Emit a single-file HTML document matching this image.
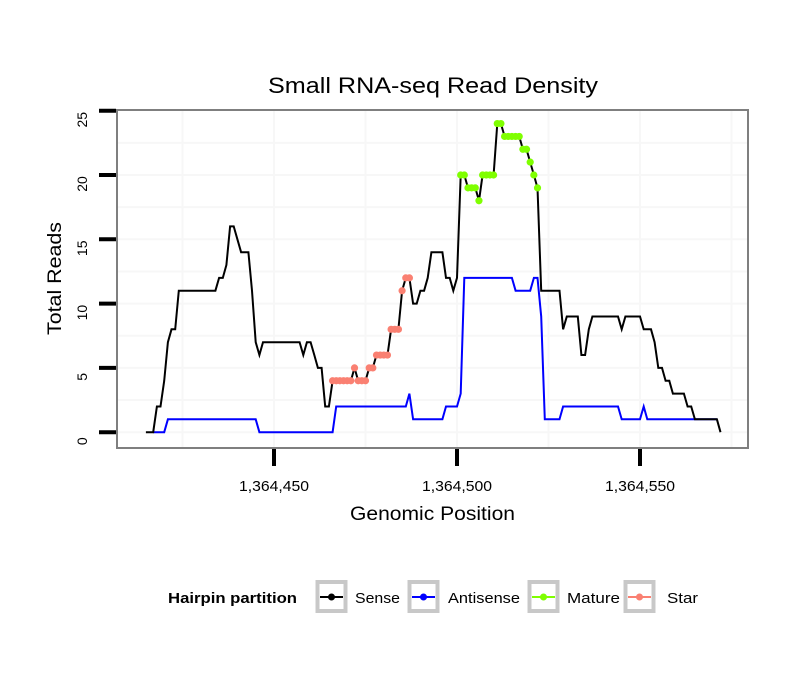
<!DOCTYPE html>
<html><head><meta charset="utf-8"><style>
body{margin:0;background:#fff}
svg text{font-family:"Liberation Sans",Arial,sans-serif}
</style></head><body>
<svg id="chart" width="810" height="690" xmlns="http://www.w3.org/2000/svg">
<rect width="810" height="690" fill="#fff"/>
<text x="268" y="93" font-size="22" textLength="330" lengthAdjust="spacingAndGlyphs">Small RNA-seq Read Density</text>
<g id="grid"></g>
<g id="series"></g>
<rect x="117" y="110" width="631" height="338" fill="none" stroke="#7f7f7f" stroke-width="2"/>
<g id="axes"></g>
<text x="350" y="520" font-size="19" textLength="165" lengthAdjust="spacingAndGlyphs">Genomic Position</text>
<text x="0" y="0" font-size="19" textLength="113" lengthAdjust="spacingAndGlyphs" transform="translate(61 335) rotate(-90)">Total Reads</text>
<g>
<text x="168" y="603" font-size="15" font-weight="bold" textLength="129" lengthAdjust="spacingAndGlyphs">Hairpin partition</text>
<g><rect x="317.5" y="582" width="28" height="29" fill="#fff" stroke="#c8c8c8" stroke-width="4"/><line x1="320" y1="597" x2="343" y2="597" stroke="#000" stroke-width="2"/><circle cx="331.5" cy="597" r="3.5" fill="#000"/><text x="355" y="603" font-size="15" textLength="45" lengthAdjust="spacingAndGlyphs">Sense</text></g>
<g><rect x="409.5" y="582" width="28" height="29" fill="#fff" stroke="#c8c8c8" stroke-width="4"/><line x1="412" y1="597" x2="435" y2="597" stroke="#00f" stroke-width="2"/><circle cx="423.5" cy="597" r="3.5" fill="#00f"/><text x="448" y="603" font-size="15" textLength="72" lengthAdjust="spacingAndGlyphs">Antisense</text></g>
<g><rect x="529.5" y="582" width="28" height="29" fill="#fff" stroke="#c8c8c8" stroke-width="4"/><line x1="532" y1="597" x2="555" y2="597" stroke="#7fff00" stroke-width="2"/><circle cx="543.5" cy="597" r="3.5" fill="#7fff00"/><text x="567" y="603" font-size="15" textLength="53" lengthAdjust="spacingAndGlyphs">Mature</text></g>
<g><rect x="625.5" y="582" width="28" height="29" fill="#fff" stroke="#c8c8c8" stroke-width="4"/><line x1="628" y1="597" x2="651" y2="597" stroke="#fa8072" stroke-width="2"/><circle cx="639.5" cy="597" r="3.5" fill="#fa8072"/><text x="667" y="603" font-size="15" textLength="31" lengthAdjust="spacingAndGlyphs">Star</text></g>
</g>
</svg>
<script>
const senseStart = 1364415;
const senseValues = [0,0,0,2,2,4,7,8,8,11,11,11,11,11,11,11,11,11,11,11,12,12,13,16,16,15,14,14,14,11,7,6,7,7,7,7,7,7,7,7,7,7,7,6,7,7,6,5,5,2,2,4,4,4,4,4,4,5,4,4,4,5,5,6,6,6,6,8,8,8,11,12,12,10,10,11,11,12,14,14,14,14,12,12,11,12,20,20,19,19,19,18,20,20,20,20,24,24,23,23,23,23,23,22,22,21,20,19,11,11,11,11,11,11,8,9,9,9,9,6,6,8,9,9,9,9,9,9,9,9,8,9,9,9,9,9,8,8,8,7,5,5,4,4,3,3,3,3,2,2,1,1,1,1,1,1,1,0];
const antiStart = 1364417;
const antiValues = [0,0,0,0,1,1,1,1,1,1,1,1,1,1,1,1,1,1,1,1,1,1,1,1,1,1,1,1,1,0,0,0,0,0,0,0,0,0,0,0,0,0,0,0,0,0,0,0,0,0,2,2,2,2,2,2,2,2,2,2,2,2,2,2,2,2,2,2,2,2,3,1,1,1,1,1,1,1,1,1,2,2,2,2,3,12,12,12,12,12,12,12,12,12,12,12,12,12,12,11,11,11,11,11,12,12,9,1,1,1,1,1,2,2,2,2,2,2,2,2,2,2,2,2,2,2,2,2,1,1,1,1,1,1,2,1,1,1,1,1,1,1,1,1,1,1,1,1,1,1,1,1,1,1,1];
const starRange = [1364466, 1364487];
const matureRange = [1364501, 1364522];
const yTicks = [0,5,10,15,20,25];
const xTicks = [1364450,1364500,1364550];
const xTickLabels = ["1,364,450","1,364,500","1,364,550"];

const NS="http://www.w3.org/2000/svg";
const X = v => 274 + (v-1364450)*3.66;
const Y = v => 432.2 - v*12.86;
function mk(tag, attrs, parent){const e=document.createElementNS(NS,tag);for(const k in attrs)e.setAttribute(k,attrs[k]);parent.appendChild(e);return e;}
const grid=document.getElementById('grid'), axes=document.getElementById('axes'), series=document.getElementById('series');
for(let v=-2.5; v<=27.5; v+=2.5){const y=Y(v); if(y<111||y>447) continue;
  const l=mk('line',{x1:118,x2:747,y1:y,y2:y,stroke:'#f7f7f7','stroke-width':2},grid);
  
  }
for(let v=1364400; v<=1364600; v+=25){const x=X(v); if(x<118||x>747) continue;
  const l=mk('line',{x1:x,x2:x,y1:111,y2:447,stroke:'#f7f7f7','stroke-width':2},grid);
  
  }
yTicks.forEach(v=>{const y=Y(v);
  const t=mk('line',{x1:99,x2:116,y1:y,y2:y,stroke:'#000','stroke-width':4},axes);
  
  
  const tx=mk('text',{x:0,y:0,'font-size':14,'text-anchor':'middle',transform:`translate(87 ${y+9}) rotate(-90)`},axes);
  tx.textContent=v;
  
  });
xTicks.forEach((v,i)=>{const x=X(v);
  const t=mk('line',{x1:x,x2:x,y1:449,y2:466,stroke:'#000','stroke-width':4},axes);
  
  
  const tx=mk('text',{x:x-35,y:491,'font-size':15,textLength:70,lengthAdjust:'spacingAndGlyphs'},axes);
  tx.textContent=xTickLabels[i];
  
  });
function linePath(start, vals){return vals.map((v,i)=>(i?'L':'M')+X(start+i).toFixed(1)+' '+Y(v).toFixed(1)).join(' ');}
const anti=mk('path',{d:linePath(antiStart,antiValues),fill:'none',stroke:'#00f','stroke-width':2},series);


const sense=mk('path',{d:linePath(senseStart,senseValues),fill:'none',stroke:'#000','stroke-width':2},series);


senseValues.forEach((v,i)=>{const p=senseStart+i; let col=null,name=null;
  if(p>=starRange[0]&&p<=starRange[1]){col='#fa8072';name='star-point';}
  if(p>=matureRange[0]&&p<=matureRange[1]){col='#7fff00';name='mature-point';}
  if(col){const c=mk('circle',{cx:X(p),cy:Y(v),r:3.6,fill:col},series);
    
    }});
</script>
</body></html>
